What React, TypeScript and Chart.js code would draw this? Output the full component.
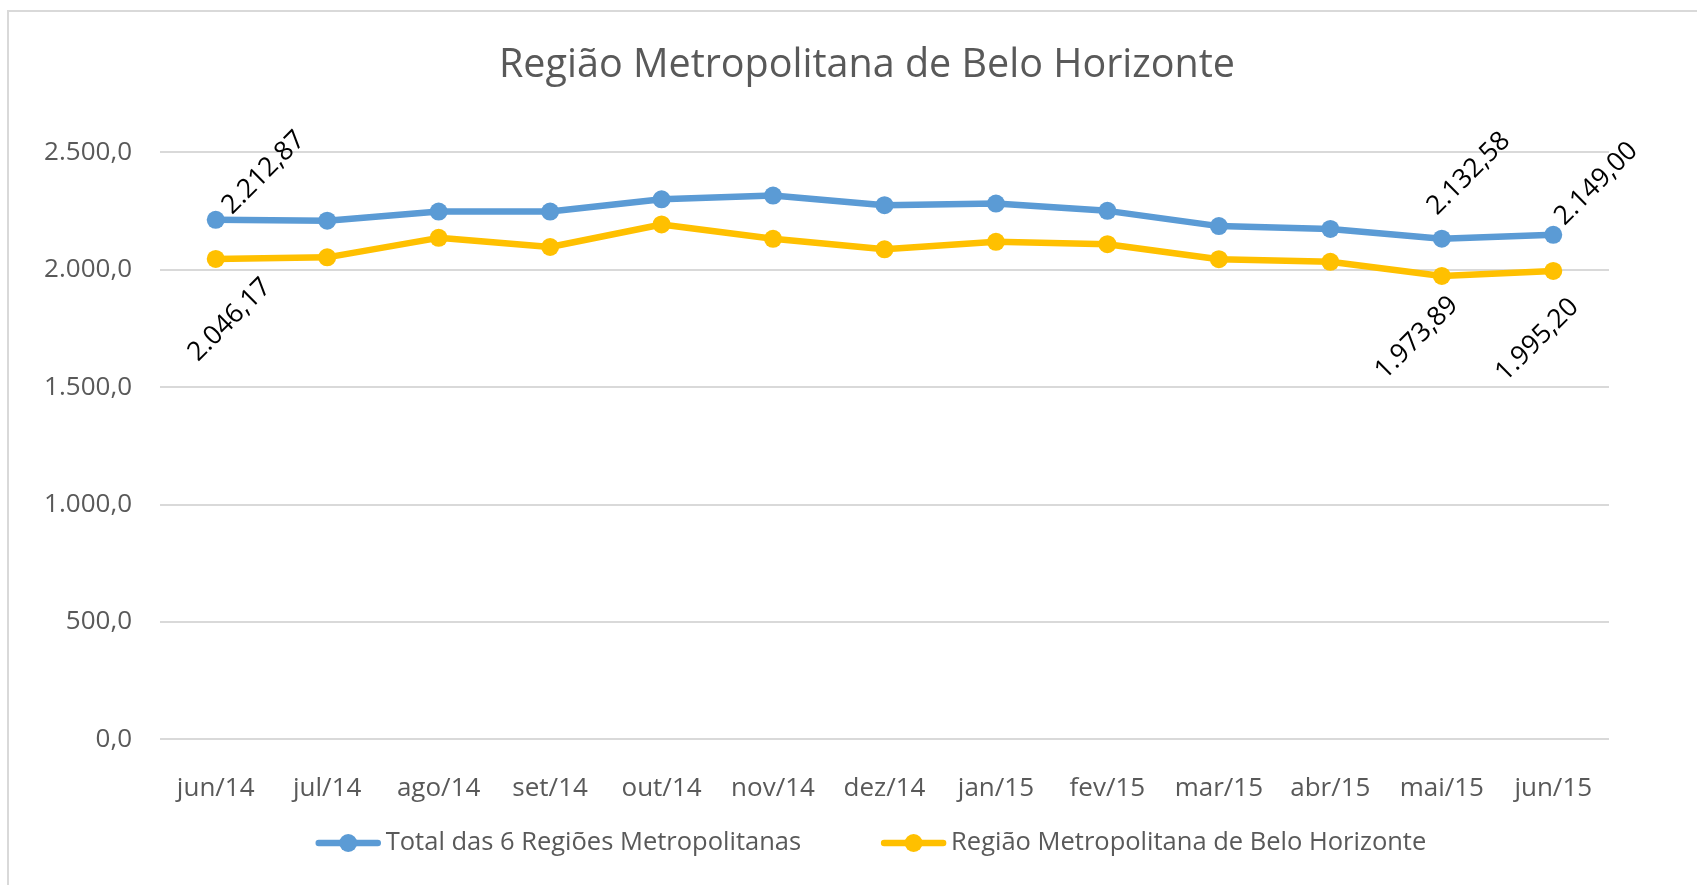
import { useEffect, useRef } from "react";
import { Chart, registerables, type ChartConfiguration, type Plugin } from "chart.js";

Chart.register(...registerables);
Chart.defaults.font.family = "'Open Sans', sans-serif";

const months = ["jun/14", "jul/14", "ago/14", "set/14", "out/14", "nov/14", "dez/14", "jan/15", "fev/15", "mar/15", "abr/15", "mai/15", "jun/15"];
const totalSeis = [2212.87, 2209, 2248, 2248, 2300, 2316, 2275, 2282, 2251, 2186, 2174, 2132.58, 2149.0];
const bh = [2046.17, 2053, 2136, 2097, 2193, 2132, 2087, 2119, 2109, 2045, 2034, 1973.89, 1995.2];
const yTicks = [0, 500, 1000, 1500, 2000, 2500];
const seriesNames = ["Total das 6 Regiões Metropolitanas", "Região Metropolitana de Belo Horizonte"];
const labelledPoints = [0, 11, 12];

const BLUE = "#5B9BD5";
const GOLD = "#FFC000";
const GREY = "#595959";
const FONT = "'Open Sans', sans-serif";

// where each rotated value label sits, relative to its point
const labelOffsets = [
  [[48, -47], [27, -65], [43, -51]],
  [[14, 61], [-25, 62], [-16, 69]],
];

function fmtBR(v: number, decimals: number) {
  const [int, dec] = v.toFixed(decimals).split(".");
  const intS = int.replace(/\B(?=(\d{3})+(?!\d))/g, ".");
  return dec ? `${intS},${dec}` : intS;
}

const valueLabels: Plugin<"line"> = {
  id: "valueLabels",
  afterDatasetsDraw(chart) {
    const ctx = chart.ctx;
    ctx.save();
    ctx.fillStyle = "#000";
    ctx.font = `26.5px ${FONT}`;
    ctx.textAlign = "center";
    ctx.textBaseline = "middle";
    chart.data.datasets.forEach((ds, d) => {
      const meta = chart.getDatasetMeta(d);
      labelledPoints.forEach((idx, k) => {
        const pt = meta.data[idx];
        const [dx, dy] = labelOffsets[d][k];
        ctx.save();
        ctx.translate(pt.x + dx, pt.y + dy);
        ctx.rotate(-Math.PI / 4);
        ctx.fillText(fmtBR(ds.data[idx] as number, 2), 0, 0);
        ctx.restore();
      });
    });
    ctx.restore();
  },
};

// Excel-style legend: a short line with a marker, then the series name
const lineLegend: Plugin<"line"> = {
  id: "lineLegend",
  afterDraw(chart) {
    const ctx = chart.ctx;
    const lineW = 65;
    const gapText = 5;
    const gapItem = 80;
    ctx.save();
    ctx.font = `25.5px ${FONT}`;
    const items = chart.data.datasets.map((ds) => ({
      text: ds.label as string,
      color: ds.borderColor as string,
      w: ctx.measureText(ds.label as string).width,
    }));
    const total = items.reduce((s, it) => s + lineW + gapText + it.w, 0) + gapItem * (items.length - 1);
    let x = chart.width / 2 - total / 2 + 4;
    const y = chart.scales.x.bottom + 37.7;
    items.forEach((it) => {
      ctx.strokeStyle = it.color;
      ctx.lineWidth = 6.5;
      ctx.lineCap = "round";
      ctx.beginPath();
      ctx.moveTo(x + 3, y);
      ctx.lineTo(x + lineW - 3, y);
      ctx.stroke();
      ctx.fillStyle = it.color;
      ctx.beginPath();
      ctx.arc(x + lineW / 2, y, 9, 0, Math.PI * 2);
      ctx.fill();
      ctx.fillStyle = GREY;
      ctx.textAlign = "left";
      ctx.textBaseline = "middle";
      ctx.fillText(it.text, x + lineW + gapText, y);
      x += lineW + gapText + it.w + gapItem;
    });
    ctx.restore();
  },
};

function LineChart() {
  const ref = useRef<HTMLCanvasElement | null>(null);
  const chartRef = useRef<Chart | null>(null);

  useEffect(() => {
    const el = ref.current;
    if (!el) return;
    chartRef.current?.destroy();

    const cfg: ChartConfiguration<"line"> = {
      type: "line",
      data: {
        labels: months,
        datasets: [
          { label: seriesNames[0], data: totalSeis, borderColor: BLUE, backgroundColor: BLUE },
          { label: seriesNames[1], data: bh, borderColor: GOLD, backgroundColor: GOLD },
        ],
      },
      options: {
        animation: false,
        responsive: false,
        events: [],
        layout: { padding: { left: 0, right: 0, top: 0, bottom: 79.7 } },
        elements: {
          line: { borderWidth: 6.5, tension: 0, borderCapStyle: "round", borderJoinStyle: "round" },
          point: { radius: 9, borderWidth: 0 },
        },
        scales: {
          x: {
            offset: true,
            grid: { display: false, drawTicks: false },
            border: { display: false },
            ticks: { padding: 34, color: GREY, font: { size: 26 }, maxRotation: 0, autoSkip: false },
            afterFit: (s) => {
              s.height = 66;
            },
          },
          y: {
            min: 0,
            max: 2500,
            afterBuildTicks: (s) => {
              s.ticks = yTicks.map((v) => ({ value: v }));
            },
            ticks: { padding: 28, color: GREY, font: { size: 26 }, callback: (v) => fmtBR(Number(v), 1) },
            grid: { color: "#d9d9d9", lineWidth: 2, drawTicks: false },
            border: { display: false },
            afterFit: (s) => {
              s.width = 151;
            },
          },
          // empty right-hand margin, so the title stays centred on the whole chart
          yRight: {
            position: "right",
            grid: { display: false, drawTicks: false },
            border: { display: false },
            ticks: { display: false },
            afterFit: (s) => {
              s.width = 116;
            },
          },
        },
        plugins: {
          title: {
            display: true,
            text: "Região Metropolitana de Belo Horizonte",
            color: GREY,
            font: { size: 39.5, weight: "normal" },
            padding: { top: 30, bottom: 63 },
          },
          legend: { display: false },
          tooltip: { enabled: false },
        },
      },
      plugins: [valueLabels, lineLegend],
    };

    chartRef.current = new Chart(el, cfg);
    return () => {
      chartRef.current?.destroy();
      chartRef.current = null;
    };
  }, []);

  return <canvas ref={ref} width={1716} height={873} />;
}

export default function App() {
  return (
    <div style={{ position: "fixed", inset: 0, overflow: "hidden", background: "#fff" }}>
      <div
        style={{
          position: "absolute",
          left: 7,
          top: 10,
          width: 1716,
          height: 900,
          border: "2px solid #d9d9d9",
        }}
      >
        <LineChart />
      </div>
    </div>
  );
}
